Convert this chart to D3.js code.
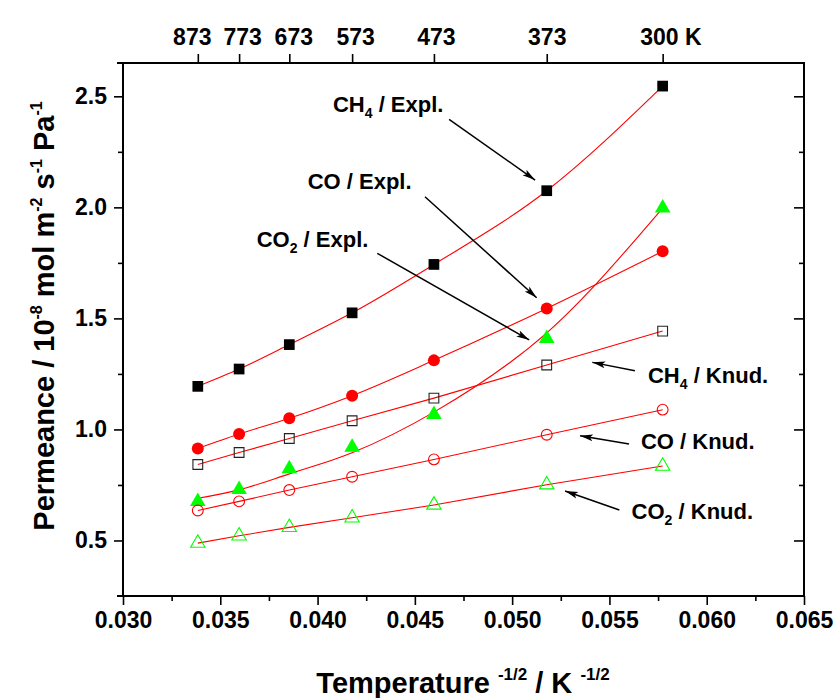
<!DOCTYPE html>
<html>
<head>
<meta charset="utf-8">
<script src="https://cdn.jsdelivr.net/npm/d3@7"></script>
<style>
  html, body { margin: 0; padding: 0; background: #fff; }
  svg { display: block; }
  text { font-family: "Liberation Sans", Arial, Helvetica, sans-serif; font-weight: bold; fill: #000; }
</style>
</head>
<body>
<svg id="chart" width="838" height="698"></svg>
<script>
// ---------- data ----------
const temperatures = [873, 773, 673, 573, 473, 373, 300];      // K
const topTickLabels = ["873", "773", "673", "573", "473", "373", "300 K"];
const xTicks = [0.030, 0.035, 0.040, 0.045, 0.050, 0.055, 0.060, 0.065];
const yTicks = [0.5, 1.0, 1.5, 2.0, 2.5];

const ch4Expl = [1.194, 1.272, 1.382, 1.525, 1.743, 2.075, 2.546];
const coExpl  = [0.914, 0.979, 1.050, 1.152, 1.311, 1.545, 1.802];
const co2Expl = [0.676, 0.730, 0.823, 0.920, 1.067, 1.409, 1.997];
const co2ExplFit = [0.690, 0.728, 0.800, 0.895, 1.078, 1.435, 1.997];
const ch4Knud = [0.842, 0.896, 0.959, 1.039, 1.141, 1.290, 1.443];
const coKnud  = [0.635, 0.676, 0.727, 0.787, 0.865, 0.976, 1.089];
const co2Knud = [0.488, 0.521, 0.559, 0.602, 0.660, 0.751, 0.835];

// annotations (data coords): label anchor and arrow start/end
const annLabels = [
  {main: "CH", sub: "4", rest: " / Expl.", x: 0.04079, y: 2.431},
  {main: "CO / Expl.", sub: "", rest: "", x: 0.03949, y: 2.083},
  {main: "CO", sub: "2", rest: " / Expl.", x: 0.03687, y: 1.823},
  {main: "CH", sub: "4", rest: " / Knud.", x: 0.05698, y: 1.209},
  {main: "CO / Knud.", sub: "", rest: "", x: 0.05662, y: 0.912},
  {main: "CO", sub: "2", rest: " / Knud.", x: 0.05614, y: 0.597}
];
const annArrows = [
  {x1: 0.04676, y1: 2.396, x2: 0.05118, y2: 2.123},
  {x1: 0.04552, y1: 2.048, x2: 0.05126, y2: 1.593},
  {x1: 0.04307, y1: 1.793, x2: 0.05088, y2: 1.403},
  {x1: 0.05631, y1: 1.264, x2: 0.05412, y2: 1.302},
  {x1: 0.05601, y1: 0.934, x2: 0.05349, y2: 0.972},
  {x1: 0.05551, y1: 0.637, x2: 0.05272, y2: 0.723}
];

// ---------- layout ----------
const svg = d3.select("#chart");
const L = 123, R = 804, T = 63, B = 596;
const x = d3.scaleLinear().domain([0.030, 0.065]).range([L, R]);
const y = d3.scaleLinear().domain([0.25, 2.65]).range([B, T]);
const xs = temperatures.map(t => 1 / Math.sqrt(t));

const RED = "#ff0000", GREEN = "#00ff00";

// ---------- fitted lines ----------
const g = svg.append("g");
function drawLine(vals, curve) {
  const line = d3.line().x((d, i) => x(xs[i])).y(d => y(d)).curve(curve);
  g.append("path").attr("d", line(vals)).attr("fill", "none")
    .attr("stroke", RED).attr("stroke-width", 1.1);
}
drawLine(ch4Expl, d3.curveMonotoneX);
drawLine(coExpl, d3.curveMonotoneX);
drawLine(co2ExplFit, d3.curveMonotoneX);
drawLine(ch4Knud, d3.curveLinear);
drawLine(coKnud, d3.curveLinear);
drawLine(co2Knud, d3.curveLinear);

// ---------- markers ----------
const sqSym = d3.symbol().type(d3.symbolSquare);
const triSym = d3.symbol().type(d3.symbolTriangle);
function markers(vals, kind, filled, color) {
  vals.forEach((v, i) => {
    const cx = x(xs[i]), cy = y(v);
    let el;
    if (kind === "square") {
      el = g.append("path").attr("d", sqSym.size(filled ? 115 : 95)())
        .attr("transform", `translate(${cx},${cy})`);
    } else if (kind === "circle") {
      el = g.append("circle").attr("cx", cx).attr("cy", cy).attr("r", filled ? 6 : 5.4);
    } else {
      el = g.append("path").attr("d", triSym.size(filled ? 105 : 90)())
        .attr("transform", `translate(${cx},${cy})`);
    }
    if (filled) el.attr("fill", color).attr("stroke", "none");
    else el.attr("fill", "none").attr("stroke", color).attr("stroke-width", 1.1);
  });
}
markers(ch4Expl, "square", true, "#000");
markers(coExpl, "circle", true, RED);
markers(co2Expl, "triangle", true, GREEN);
markers(ch4Knud, "square", false, "#222");
markers(coKnud, "circle", false, RED);
markers(co2Knud, "triangle", false, GREEN);

// ---------- annotations ----------
svg.append("defs").append("marker")
  .attr("id", "ah").attr("viewBox", "0 0 13 8").attr("refX", 13).attr("refY", 4)
  .attr("markerWidth", 13).attr("markerHeight", 8).attr("markerUnits", "userSpaceOnUse")
  .attr("orient", "auto")
  .append("path").attr("d", "M0,0.6 L13,4 L0,7.4 L3,4 Z").attr("fill", "#000");

annArrows.forEach(a => {
  svg.append("line").attr("x1", x(a.x1)).attr("y1", y(a.y1))
    .attr("x2", x(a.x2)).attr("y2", y(a.y2))
    .attr("stroke", "#000").attr("stroke-width", 1.5).attr("marker-end", "url(#ah)");
});
annLabels.forEach(a => {
  const t = svg.append("text").attr("x", x(a.x)).attr("y", y(a.y)).attr("font-size", 22);
  t.append("tspan").text(a.main);
  if (a.sub) {
    t.append("tspan").attr("font-size", 14).attr("dy", 6).text(a.sub);
    t.append("tspan").attr("dy", -6).text(a.rest);
  }
});

// ---------- axes ----------
const frameW = 2;
const ax = svg.append("g");
// frame
ax.append("line").attr("x1", L - 6).attr("x2", R + 1).attr("y1", B).attr("y2", B).attr("stroke", "#000").attr("stroke-width", frameW);
ax.append("line").attr("x1", L - 6).attr("x2", R + 1).attr("y1", T).attr("y2", T).attr("stroke", "#000").attr("stroke-width", frameW);
ax.append("line").attr("x1", L).attr("x2", L).attr("y1", T).attr("y2", B + 1).attr("stroke", "#000").attr("stroke-width", frameW);
ax.append("line").attr("x1", R).attr("x2", R).attr("y1", T - 1).attr("y2", B + 1).attr("stroke", "#000").attr("stroke-width", frameW);

function styleLabels(sel) {
  sel.selectAll(".tick text").attr("font-size", 23)
    .attr("font-family", "Liberation Sans, Arial, sans-serif")
    .attr("font-weight", "bold").attr("fill", "#000");
}

// bottom axis
const xMinor = d3.range(0, 7).map(i => 0.0325 + i * 0.005);
const bottomAxis = d3.axisBottom(x).tickValues(xTicks).tickSize(9).tickPadding(7).tickFormat(d3.format(".3f"));
const bAx = ax.append("g").attr("transform", `translate(0,${B})`).call(bottomAxis);
bAx.select(".domain").remove();
bAx.selectAll(".tick line").attr("stroke-width", 1.6);
styleLabels(bAx);
ax.append("g").attr("transform", `translate(0,${B})`)
  .call(d3.axisBottom(x).tickValues(xMinor).tickSize(5).tickFormat(""))
  .call(s => s.select(".domain").remove())
  .selectAll(".tick line").attr("stroke-width", 1.6);

// left axis
const yMinor = [0.75, 1.25, 1.75, 2.25];
const leftAxis = d3.axisLeft(y).tickValues(yTicks).tickSize(9).tickPadding(7).tickFormat(d3.format(".1f"));
const lAx = ax.append("g").attr("transform", `translate(${L},0)`).call(leftAxis);
lAx.select(".domain").remove();
lAx.selectAll(".tick line").attr("stroke-width", 1.6);
styleLabels(lAx);
ax.append("g").attr("transform", `translate(${L},0)`)
  .call(d3.axisLeft(y).tickValues(yMinor).tickSize(5).tickFormat(""))
  .call(s => s.select(".domain").remove())
  .selectAll(".tick line").attr("stroke-width", 1.6);

// right axis (inward ticks)
ax.append("g").attr("transform", `translate(${R},0)`)
  .call(d3.axisLeft(y).tickValues(yTicks).tickSize(10).tickFormat(""))
  .call(s => s.select(".domain").remove())
  .selectAll(".tick line").attr("stroke-width", 1.6);
ax.append("g").attr("transform", `translate(${R},0)`)
  .call(d3.axisLeft(y).tickValues(yMinor).tickSize(5).tickFormat(""))
  .call(s => s.select(".domain").remove())
  .selectAll(".tick line").attr("stroke-width", 1.6);

// top axis (temperatures)
const topLabelShift = [-6, 3, 4, 3, 2, 0, -23];
const topAxis = d3.axisTop(x).tickValues(xs).tickSize(9).tickPadding(9)
  .tickFormat((d, i) => topTickLabels[i]);
const tAx = ax.append("g").attr("transform", `translate(0,${T})`).call(topAxis);
tAx.select(".domain").remove();
tAx.selectAll(".tick line").attr("stroke-width", 1.6);
styleLabels(tAx);
tAx.selectAll(".tick text").attr("dx", (d, i) => topLabelShift[i]);
// "300 K": anchor at start so the number sits over its tick
tAx.selectAll(".tick text").filter((d, i) => i === 6).attr("text-anchor", "start");

// axis titles
const xt = svg.append("text").attr("x", 463).attr("y", 693).attr("text-anchor", "middle").attr("font-size", 29);
xt.append("tspan").text("Temperature ");
xt.append("tspan").attr("font-size", 17).attr("dy", -13).text("-1/2");
xt.append("tspan").attr("dy", 13).text(" / K ");
xt.append("tspan").attr("font-size", 17).attr("dy", -13).text("-1/2");

const yt = svg.append("text").attr("transform", "translate(54,316) rotate(-90)").attr("text-anchor", "middle").attr("font-size", 29);
yt.append("tspan").text("Permeance / 10");
yt.append("tspan").attr("font-size", 16).attr("dy", -12).text("-8");
yt.append("tspan").attr("dy", 12).text(" mol m");
yt.append("tspan").attr("font-size", 16).attr("dy", -12).text("-2");
yt.append("tspan").attr("dy", 12).text(" s");
yt.append("tspan").attr("font-size", 16).attr("dy", -12).text("-1");
yt.append("tspan").attr("dy", 12).text(" Pa");
yt.append("tspan").attr("font-size", 16).attr("dy", -12).text("-1");
</script>
</body>
</html>
